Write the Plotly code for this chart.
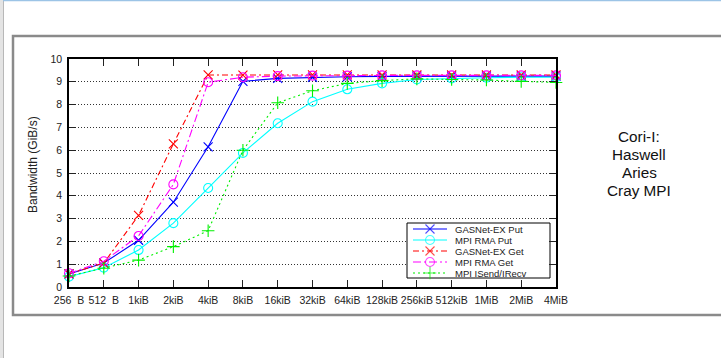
import plotly.graph_objects as go

# ---------------- data ----------------
sizes = ["256\u00a0\u00a0B", "512\u00a0\u00a0B", "1kiB", "2kiB", "4kiB", "8kiB", "16kiB", "32kiB",
         "64kiB", "128kiB", "256kiB", "512kiB", "1MiB", "2MiB", "4MiB"]
gasnet_put = [0.57, 1.05, 2.05, 3.72, 6.15, 9.02, 9.15, 9.2, 9.22, 9.24, 9.25, 9.25, 9.25, 9.25, 9.25]
mpi_rma_put = [0.45, 0.85, 1.62, 2.8, 4.34, 5.88, 7.18, 8.13, 8.67, 8.93, 9.1, 9.15, 9.18, 9.2, 9.2]
gasnet_get = [0.58, 1.05, 3.14, 6.28, 9.3, 9.29, 9.3, 9.3, 9.3, 9.3, 9.3, 9.3, 9.3, 9.3, 9.3]
mpi_rma_get = [0.6, 1.13, 2.24, 4.5, 8.98, 9.2, 9.25, 9.27, 9.27, 9.28, 9.28, 9.28, 9.28, 9.28, 9.28]
mpi_isend = [0.48, 0.82, 1.18, 1.77, 2.47, 6.0, 8.08, 8.61, 8.93, 9.05, 9.13, 9.1, 9.08, 9.02, 8.97]
y_ticks = list(range(0, 11))
side_text = ["Cori-I:", "Haswell", "Aries", "Cray MPI"]

series = [
    ("GASNet-EX Put", gasnet_put, "#0000ff", "solid", "x-thin-open"),
    ("MPI RMA Put", mpi_rma_put, "#00ffff", "solid", "circle-open"),
    ("GASNet-EX Get", gasnet_get, "#ff0000", "6px,3px,2px,3px", "x-thin-open"),
    ("MPI RMA Get", mpi_rma_get, "#ff00ff", "8px,3px,2px,3px", "circle-open"),
    ("MPI ISend/IRecv", mpi_isend, "#00f000", "2px,3px", "cross-thin-open"),
]

# ---------------- geometry (pixels) ----------------
W, H = 721, 358
L, R, T, B = 69, 556, 59, 287
PW, PH = R - L, B - T


def px(x):
    return (x - L) / PW


def py(y):
    return (B - y) / PH


FONT = "Liberation Sans, Arial, sans-serif"
xi = list(range(len(sizes)))

fig = go.Figure()
for name, vals, color, dash, sym in series:
    fig.add_trace(go.Scatter(
        x=xi, y=vals, mode="lines+markers", name=name,
        line=dict(color=color, width=1.1, dash=dash),
        marker=dict(symbol=sym, size=9, color=color, line=dict(color=color, width=1.1)),
        showlegend=False, cliponaxis=False,
    ))

# ---------------- legend drawn on a pixel-unit overlay ----------------
LX0, LX1, LY0, LY1 = 407, 550, 223, 278
row_y = [229, 240, 251, 262, 273]
fig.add_trace(go.Scatter(
    x=[LX0, LX1, LX1, LX0, LX0], y=[LY0, LY0, LY1, LY1, LY0], mode="lines",
    fill="toself", fillcolor="white", line=dict(color="black", width=1),
    xaxis="x2", yaxis="y2", showlegend=False, hoverinfo="skip",
))
for (name, vals, color, dash, sym), ry in zip(series, row_y):
    fig.add_trace(go.Scatter(
        x=[413, 430, 447], y=[ry, ry, ry], mode="lines+markers",
        line=dict(color=color, width=1.1, dash=dash),
        marker=dict(symbol=sym, size=[0, 9, 0], color=color, line=dict(color=color, width=1.1)),
        xaxis="x2", yaxis="y2", showlegend=False, hoverinfo="skip",
    ))
    fig.add_annotation(x=454, y=ry, xref="x2", yref="y2", text=name, showarrow=False,
                       xanchor="left", yanchor="middle", borderpad=0,
                       font=dict(family=FONT, size=9.5, color="#222"))

# ---------------- side text ----------------
for i, s in enumerate(side_text):
    fig.add_annotation(x=px(639), y=py(136.8 + 17.8 * i), xref="paper", yref="paper", text=s,
                       showarrow=False, xanchor="center", yanchor="middle", borderpad=0,
                       font=dict(family=FONT, size=15.3, color="#111"))

# y axis title
fig.add_annotation(x=px(33), y=py(165), xref="paper", yref="paper", text="Bandwidth (GiB/s)",
                   textangle=-90, showarrow=False, xanchor="center", yanchor="middle",
                   font=dict(family=FONT, size=12, color="#222"))

# ---------------- page decorations ----------------
shapes = [
    dict(type="rect", xref="paper", yref="paper", x0=px(0), x1=px(3), y0=py(-2), y1=py(H + 2),
         fillcolor="#e4e4e4", line=dict(width=0), layer="below"),
    dict(type="line", xref="paper", yref="paper", x0=px(3.5), x1=px(3.5), y0=py(0), y1=py(H + 2),
         line=dict(color="#b8b8b8", width=1), layer="below"),
    dict(type="line", xref="paper", yref="paper", x0=px(3), x1=px(W + 2), y0=py(0.5), y1=py(0.5),
         line=dict(color="#9cc4e6", width=1.5), layer="below"),
    dict(type="rect", xref="paper", yref="paper", x0=px(13), x1=px(W + 10), y0=py(36), y1=py(315),
         fillcolor="rgba(0,0,0,0)", line=dict(color="#8a8a8a", width=2.5), layer="below"),
]

fig.update_layout(
    width=W, height=H,
    margin=dict(l=L, r=W - R, t=T, b=H - B, pad=0),
    paper_bgcolor="white", plot_bgcolor="rgba(0,0,0,0)",
    shapes=shapes,
    font=dict(family=FONT, size=9, color="#222"),
    xaxis=dict(
        range=[0, len(sizes) - 1], tickmode="array", tickvals=xi, ticktext=sizes,
        ticks="inside", ticklen=7, tickwidth=1, tickcolor="#222",
        showline=True, linecolor="black", linewidth=1.5, mirror="ticks",
        showgrid=False, zeroline=False, tickfont=dict(size=10.5, color="#222"),
        ticklabelstandoff=3, fixedrange=True,
    ),
    yaxis=dict(
        range=[0, 10], tickmode="array", tickvals=y_ticks,
        ticks="inside", ticklen=7, tickwidth=1, tickcolor="#222",
        showline=True, linecolor="black", linewidth=1.5, mirror="ticks",
        showgrid=True, gridcolor="#333", gridwidth=1, griddash="1px,2px",
        zeroline=False, tickfont=dict(size=10.5, color="#222"), ticklabelstandoff=3,
        fixedrange=True,
    ),
    xaxis2=dict(domain=[0, 1], anchor="y2", overlaying="x", range=[L, R], visible=False,
                fixedrange=True),
    yaxis2=dict(domain=[0, 1], anchor="x2", overlaying="y", range=[B, T], visible=False,
                fixedrange=True),
    showlegend=False,
)

fig.write_html(
    "out.html",
    config={"displayModeBar": False},
    post_script="document.documentElement.style.margin='0';document.body.style.margin='0';"
                "document.body.style.overflow='hidden';",
)
